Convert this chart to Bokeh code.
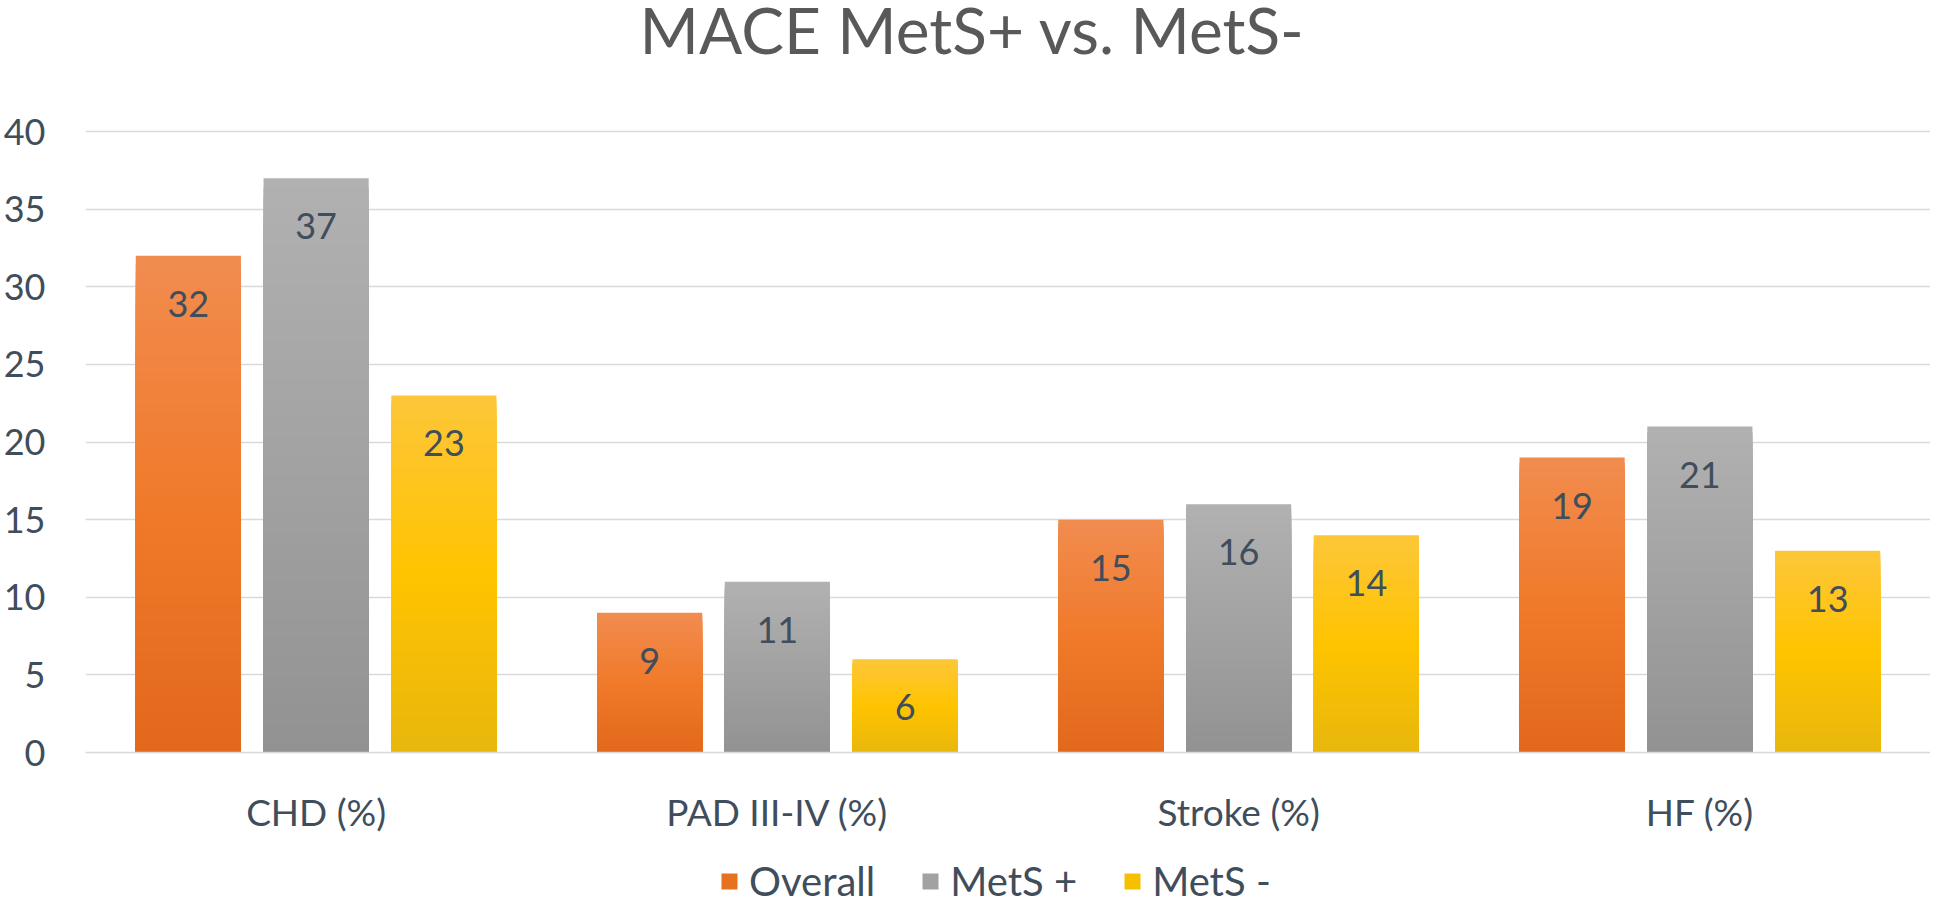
from bokeh.plotting import figure
from bokeh.layouts import column
from bokeh.models import (ColumnDataSource, FactorRange, FixedTicker, Legend, LegendItem, Range1d, Label)
from bokeh.transform import dodge
from bokeh.core.properties import value
from bokeh.embed import file_html
from bokeh.resources import INLINE

categories = ["CHD (%)", "PAD III-IV (%)", "Stroke (%)", "HF (%)"]
series_names = ["Overall", "MetS +", "MetS -"]
overall = [32, 9, 15, 19]
mets_plus = [37, 11, 16, 21]
mets_minus = [23, 6, 14, 13]
y_ticks = [0, 5, 10, 15, 20, 25, 30, 35, 40]
title_text = "MACE MetS+ vs. MetS-"

series_values = [overall, mets_plus, mets_minus]
offsets = [-0.277, 0.0, 0.277]
BAR_W = 0.228
# gradient stops: (bottom, middle, top)
gradients = [
    ("#e2681c", "#f07a2a", "#f18c50"),
    ("#929292", "#a2a2a2", "#b1b1b1"),
    ("#e8b70d", "#ffc400", "#fdc63a"),
]
legend_colors = ["#e8711f", "#a2a2a2", "#f5c000"]

FONT = "Lato"
TEXT_COLOR = "#404d5b"

W = 1930
T_H, M_H, L_H = 70, 790, 40
BL = 74


def hex2rgb(h):
    h = h.lstrip("#")
    return tuple(int(h[i:i + 2], 16) for i in (0, 2, 4))


def lerp_color(c1, c2, t):
    a, b = hex2rgb(c1), hex2rgb(c2)
    return "#%02x%02x%02x" % tuple(int(round(a[i] + (b[i] - a[i]) * t)) for i in range(3))


def grad_color(stops, t):
    if t <= 0.5:
        return lerp_color(stops[0], stops[1], t / 0.5)
    return lerp_color(stops[1], stops[2], (t - 0.5) / 0.5)


def blank_fig(h):
    f = figure(width=W, height=h, output_backend="svg", toolbar_location=None,
               x_axis_location=None, y_axis_location=None,
               x_range=Range1d(0, 1), y_range=Range1d(0, 1),
               min_border=0, outline_line_color=None)
    f.grid.grid_line_color = None
    return f


# ---- title figure
pt = blank_fig(T_H)
pt.add_layout(Label(x=887, y=T_H - 29, x_units="screen", y_units="screen", text=title_text,
                    text_align="center", text_baseline="middle", text_font=FONT,
                    text_font_size="64px", text_color="#595959"))

# ---- main chart
p = figure(
    x_range=FactorRange(*categories, range_padding=0),
    y_range=Range1d(0, 40.2),
    width=W, height=M_H,
    output_backend="svg", toolbar_location=None,
    min_border_left=BL, min_border_right=0, min_border_top=58, min_border_bottom=108,
    outline_line_color=None,
)

N = 60
for vals, off, stops in zip(series_values, offsets, gradients):
    cats, tops, cols = [], [], []
    for cat, v in zip(categories, vals):
        for i in range(N, 0, -1):
            t = i / N
            cats.append(cat)
            tops.append(v * t)
            cols.append(grad_color(stops, t - 0.5 / N))
    src = ColumnDataSource(dict(cat=cats, top=tops, color=cols))
    p.vbar(x=dodge("cat", off, range=p.x_range), top="top", bottom=0, width=BAR_W,
           source=src, fill_color="color", line_color=None)

for vals, off in zip(series_values, offsets):
    src = ColumnDataSource(dict(cat=categories, val=vals, lab=[str(v) for v in vals]))
    p.text(x=dodge("cat", off, range=p.x_range), y="val", text="lab", source=src,
           text_align="center", text_baseline="middle", y_offset=48,
           text_font=value(FONT), text_font_size="36px", text_color=TEXT_COLOR)

p.yaxis.ticker = FixedTicker(ticks=y_ticks)
p.yaxis.axis_line_color = None
p.yaxis.major_tick_line_color = None
p.yaxis.minor_tick_line_color = None
p.yaxis.major_tick_out = 0
p.yaxis.major_label_standoff = 40
p.yaxis.major_label_text_font = FONT
p.yaxis.major_label_text_font_size = "36px"
p.yaxis.major_label_text_color = TEXT_COLOR

p.xaxis.axis_line_color = "#d9d9d9"
p.xaxis.axis_line_width = 1.5
p.xaxis.major_tick_line_color = None
p.xaxis.minor_tick_line_color = None
p.xaxis.major_tick_out = 0
p.xaxis.major_label_standoff = 36
p.xaxis.major_label_text_font = FONT
p.xaxis.major_label_text_font_size = "37px"
p.xaxis.major_label_text_color = TEXT_COLOR

p.xgrid.grid_line_color = None
p.ygrid.grid_line_color = "#d9d9d9"
p.ygrid.grid_line_width = 1.5

# ---- legend figure
pl = blank_fig(L_H)
items = []
for name, col in zip(series_names, legend_colors):
    r = pl.vbar(x=[0.5], top=[0], bottom=[0], width=0.0, fill_color=col, line_color=None)
    items.append(LegendItem(label=name, renderers=[r]))
legend = Legend(items=items, orientation="horizontal", location=(634, -5),
                label_text_font=FONT, label_text_font_size="40px", label_text_color=TEXT_COLOR,
                glyph_width=20, glyph_height=20, spacing=45, label_standoff=10,
                border_line_color=None, background_fill_alpha=0, padding=0, margin=0)
pl.add_layout(legend)

layout = column(pt, p, pl, spacing=0)
open("out.html", "w").write(file_html(layout, INLINE))
